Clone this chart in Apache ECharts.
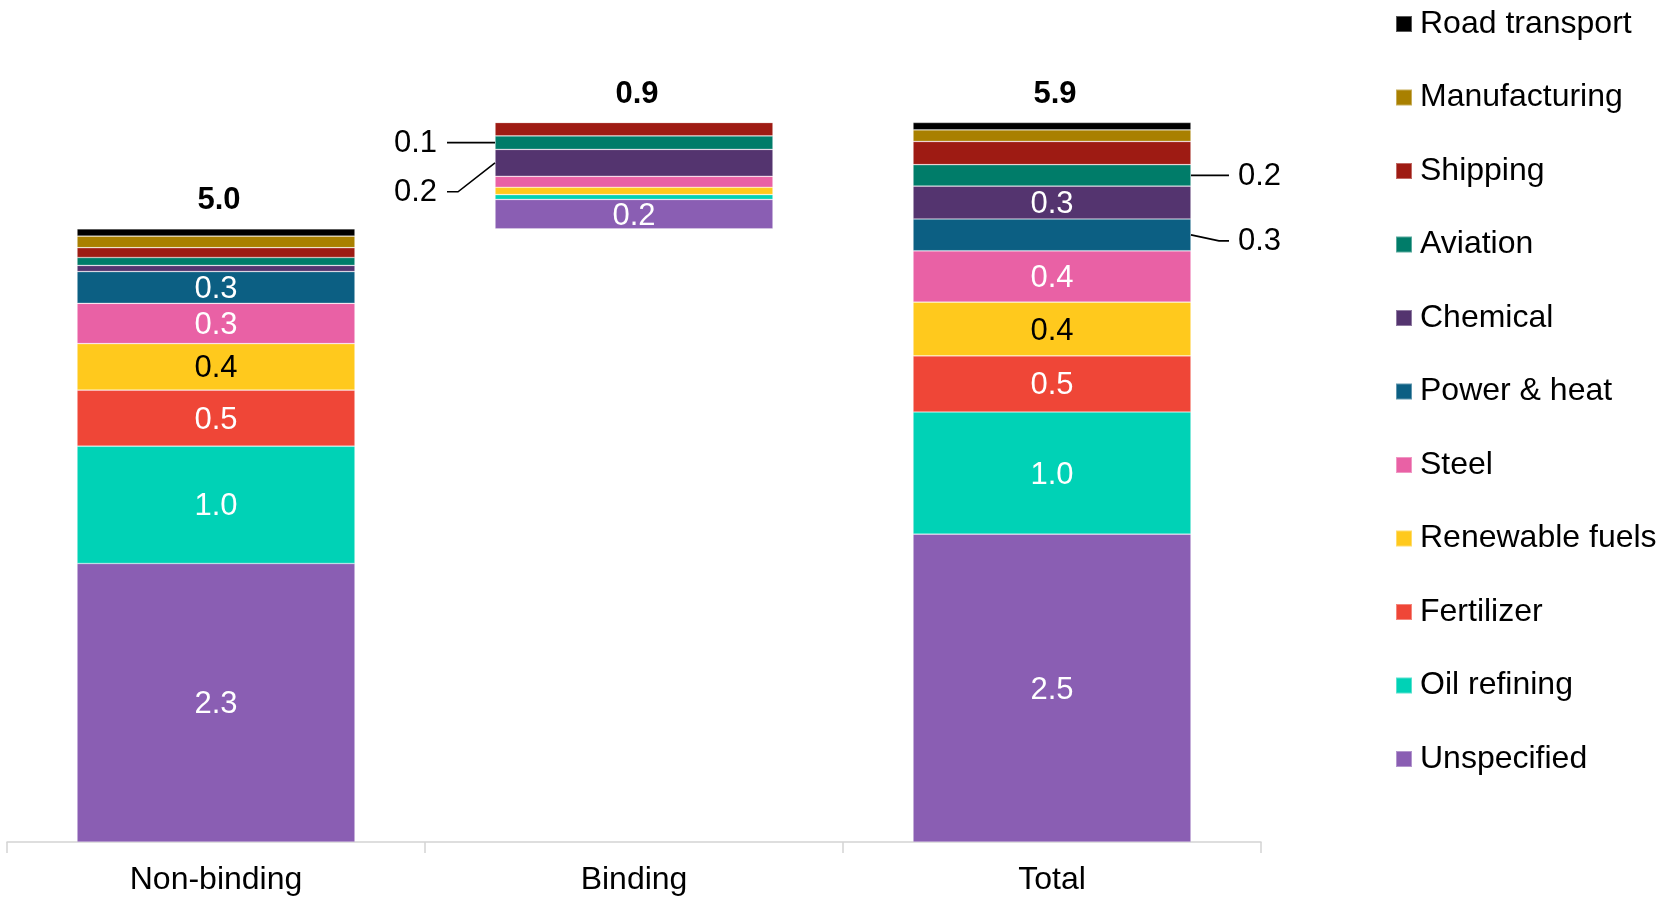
<!DOCTYPE html>
<html>
<head>
<meta charset="utf-8">
<script src="https://cdn.jsdelivr.net/npm/echarts@6/dist/echarts.min.js"></script>
<style>
  html, body { margin: 0; padding: 0; background: #ffffff; }
  #chart { width: 1658px; height: 898px; }
</style>
</head>
<body>
<div id="chart"></div>
<script>
// ---- Data -------------------------------------------------------------
const categories = ['Non-binding', 'Binding', 'Total'];

// Sectors, from the bottom of each stack to the top
const sectors = [
  'Unspecified', 'Oil refining', 'Fertilizer', 'Renewable fuels', 'Steel',
  'Power & heat', 'Chemical', 'Aviation', 'Shipping', 'Manufacturing', 'Road transport'
];

const nonBinding = [2.28, 0.96, 0.46, 0.38, 0.33, 0.26, 0.05, 0.065, 0.08, 0.095, 0.06];
const binding    = [0.24, 0.04, 0.00, 0.06, 0.09, 0.00, 0.22, 0.11,  0.11, 0.00,  0.00];
const total      = [2.52, 1.00, 0.46, 0.44, 0.42, 0.26, 0.27, 0.175, 0.19, 0.095, 0.06];

// ---- Styling ------------------------------------------------------------
const sectorColors = {
  'Unspecified':     '#8a5eb3',
  'Oil refining':    '#00d2b6',
  'Fertilizer':      '#ef4637',
  'Renewable fuels': '#ffc91d',
  'Steel':           '#e961a5',
  'Power & heat':    '#0c5f83',
  'Chemical':        '#54346f',
  'Aviation':        '#007c69',
  'Shipping':        '#9e1b13',
  'Manufacturing':   '#a98000',
  'Road transport':  '#000000'
};
const darkTextSectors = ['Renewable fuels'];

// Segments whose value is written inside the bar, per category
const insideLabels = [
  ['Unspecified', 'Oil refining', 'Fertilizer', 'Renewable fuels', 'Steel', 'Power & heat'],
  ['Unspecified'],
  ['Unspecified', 'Oil refining', 'Fertilizer', 'Renewable fuels', 'Steel', 'Chemical']
];

// Segments labelled beside the bar with a leader line
const callouts = [
  { cat: 1, sector: 'Aviation',     side: 'left',  drop: 0,  bend: 37, reach: 48, gap: 10 },
  { cat: 1, sector: 'Chemical',     side: 'left',  drop: 29, bend: 37, reach: 48, gap: 10 },
  { cat: 2, sector: 'Aviation',     side: 'right', drop: 0,  bend: 28, reach: 38, gap: 9 },
  { cat: 2, sector: 'Power & heat', side: 'right', drop: 6,  bend: 28, reach: 38, gap: 9 }
];

const FONT = "'Liberation Sans', Arial, Helvetica, sans-serif";
const BAR_RATIO = 0.665;

// ---- Derived stack geometry ----------------------------------------------
const byCategory = [nonBinding, binding, total];
const sum = arr => arr.reduce((a, b) => a + b, 0);
const catSums = byCategory.map(sum);
// The binding bar floats on top of the non-binding stack
const catBase = [0, catSums[0], 0];

function segmentCenter(cat, sectorName) {
  const s = sectors.indexOf(sectorName);
  const vals = byCategory[cat];
  let bottom = catBase[cat];
  for (let i = 0; i < s; i++) bottom += vals[i];
  return bottom + vals[s] / 2;
}

const fmt = v => v.toFixed(1);

// ---- Series ----------------------------------------------------------------
const series = [];

// Invisible spacer lifting the binding bar
series.push({
  name: '_base',
  type: 'bar',
  stack: 'all',
  barWidth: (BAR_RATIO * 100) + '%',
  silent: true,
  itemStyle: { color: 'rgba(0,0,0,0)' },
  emphasis: { disabled: true },
  data: catBase
});

sectors.forEach((name, s) => {
  series.push({
    name: name,
    type: 'bar',
    stack: 'all',
    barWidth: (BAR_RATIO * 100) + '%',
    itemStyle: {
      color: sectorColors[name],
      borderColor: 'rgba(255,255,255,0.35)',
      borderWidth: 0.7
    },
    emphasis: { disabled: true },
    label: {
      show: false,
      position: 'inside',
      offset: [0, 2],
      color: darkTextSectors.includes(name) ? '#000000' : '#ffffff',
      fontFamily: FONT,
      fontSize: 31,
      formatter: p => fmt(p.value)
    },
    data: byCategory.map((vals, c) => ({
      value: vals[s],
      label: { show: insideLabels[c].includes(name) }
    }))
  });
});

// Leader-line callouts
series.push({
  name: '_callouts',
  type: 'custom',
  clip: false,
  silent: true,
  z: 10,
  data: callouts.map(c => [c.cat, segmentCenter(c.cat, c.sector)]),
  encode: { x: 0, y: 1 },
  renderItem: function (params, api) {
    const c = callouts[params.dataIndex];
    const pt = api.coord([api.value(0), api.value(1)]);
    const half = api.size([1, 0])[0] * BAR_RATIO / 2;
    const dir = c.side === 'left' ? -1 : 1;
    const x0 = pt[0] + dir * half;
    const y0 = pt[1];
    const y1 = y0 + c.drop;
    const xb = x0 + dir * c.bend;
    const xe = x0 + dir * c.reach;
    const pts = c.drop ? [[x0, y0], [xb, y1], [xe, y1]] : [[x0, y0], [xe, y1]];
    const value = byCategory[c.cat][sectors.indexOf(c.sector)];
    return {
      type: 'group',
      children: [
        {
          type: 'polyline',
          shape: { points: pts },
          style: { stroke: '#000000', lineWidth: 1.6, fill: null }
        },
        {
          type: 'text',
          style: {
            x: xe + dir * c.gap,
            y: y1 + 1,
            text: fmt(value),
            fill: '#000000',
            fontFamily: FONT,
            fontSize: 31,
            align: c.side === 'left' ? 'right' : 'left',
            verticalAlign: 'middle'
          }
        }
      ]
    };
  }
});

// Bold totals above each bar
series.push({
  name: '_totals',
  type: 'custom',
  clip: false,
  silent: true,
  z: 10,
  data: categories.map((_, c) => [c, catBase[c] + catSums[c]]),
  encode: { x: 0, y: 1 },
  renderItem: function (params, api) {
    const c = params.dataIndex;
    const pt = api.coord([api.value(0), api.value(1)]);
    return {
      type: 'text',
      style: {
        x: pt[0] + 3,
        y: pt[1] - 28,
        text: fmt(catSums[c]),
        fill: '#000000',
        fontFamily: FONT,
        fontSize: 31,
        fontWeight: 'bold',
        align: 'center',
        verticalAlign: 'middle'
      }
    };
  }
});

// ---- Chart -----------------------------------------------------------------
const chart = echarts.init(document.getElementById('chart'), null, { renderer: 'canvas' });

chart.setOption({
  animation: false,
  backgroundColor: '#ffffff',
  grid: { left: 7, right: 397, top: 48, bottom: 56, containLabel: false },
  xAxis: {
    type: 'category',
    data: categories,
    boundaryGap: true,
    axisLine: { show: true, lineStyle: { color: '#d4d4d4', width: 1.5 } },
    axisTick: { show: true, alignWithLabel: false, length: 11, lineStyle: { color: '#d4d4d4', width: 1.5 } },
    axisLabel: { color: '#000000', fontFamily: FONT, fontSize: 32, margin: 22 },
    splitLine: { show: false }
  },
  yAxis: {
    type: 'value',
    min: 0,
    max: 6.5,
    show: false,
    splitLine: { show: false }
  },
  legend: {
    orient: 'vertical',
    left: 1395,
    top: 8,
    padding: 0,
    itemWidth: 16,
    itemHeight: 16,
    itemGap: 41.5,
    icon: 'rect',
    selectedMode: false,
    data: sectors.slice().reverse(),
    textStyle: {
      color: '#000000',
      fontFamily: FONT,
      fontSize: 32,
      lineHeight: 32,
      padding: [0, 0, 0, 3]
    }
  },
  series: series
});
</script>
</body>
</html>
